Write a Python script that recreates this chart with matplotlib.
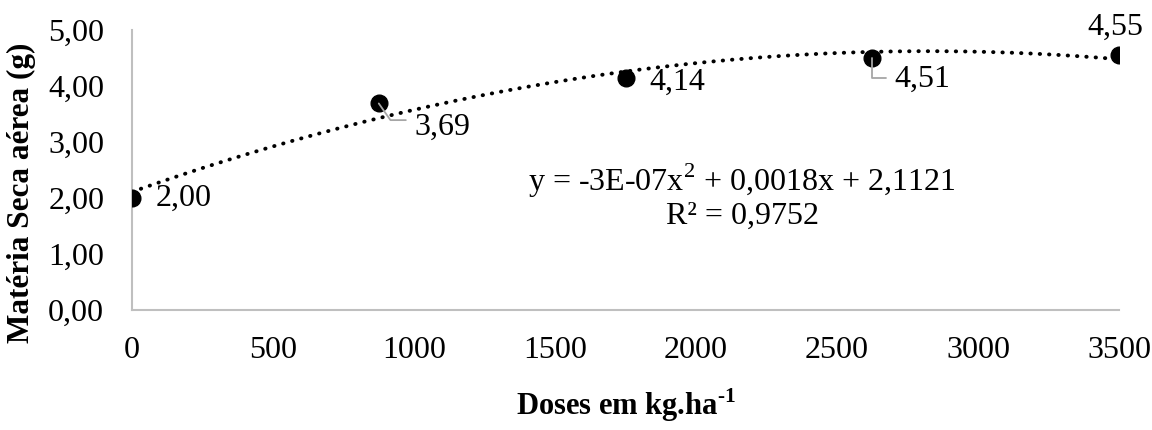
import numpy as np
import matplotlib
matplotlib.use('Agg')
import matplotlib.pyplot as plt

plt.rcParams['font.family'] = ['Liberation Serif', 'DejaVu Serif']
plt.rcParams['mathtext.fontset'] = 'custom'
plt.rcParams['mathtext.rm'] = 'Liberation Serif'
plt.rcParams['mathtext.bf'] = 'Liberation Serif:bold'

# Dados
doses = [0, 875, 1750, 2625, 3500]
massa = [2.00, 3.69, 4.14, 4.51, 4.55]
rotulos = ['2,00', '3,69', '4,14', '4,51', '4,55']
xticks = [0, 500, 1000, 1500, 2000, 2500, 3000, 3500]
yticks = [0, 1, 2, 3, 4, 5]
ytick_labels = ['0,00', '1,00', '2,00', '3,00', '4,00', '5,00']

fs = 23

fig = plt.figure(figsize=(11.52, 4.30), dpi=100)
ax = fig.add_axes([0.1146, 0.279, 0.8568, 0.651])

# Linha de tendencia polinomial (ordem 2)
coef = np.polyfit(doses, massa, 2)
xx = np.linspace(0, 3500, 300)
ax.plot(xx, np.polyval(coef, xx), color='black', linewidth=2.8,
        linestyle=(0, (0.1, 2.3)), dash_capstyle='round', zorder=2)

ax.plot(doses, massa, 'o', color='black', markersize=12, zorder=3)

# Rotulos de dados (deslocamento em pontos)
offsets = [(17, 0), (26, -17), (17, -3), (16, -16), (-3, 10)]
for x, y, txt, off in zip(doses, massa, rotulos, offsets):
    if off[1] > 5:
        ax.annotate(txt, xy=(x, y), xytext=off, textcoords='offset points',
                    fontsize=fs, va='bottom', ha='center')
    else:
        ax.annotate(txt, xy=(x, y), xytext=off, textcoords='offset points',
                    fontsize=fs, va='center', ha='left')

# Linhas de chamada
ax.annotate('', xy=(doses[1], massa[1]), xytext=(19.5, -12),
            textcoords='offset points',
            arrowprops=dict(arrowstyle='-', color='#A6A6A6', lw=1.3,
                            shrinkA=0, shrinkB=0,
                            connectionstyle='angle,angleA=0,angleB=-55,rad=0'))
ax.annotate('', xy=(doses[3], massa[3]), xytext=(10, -15),
            textcoords='offset points',
            arrowprops=dict(arrowstyle='-', color='#A6A6A6', lw=1.3,
                            shrinkA=0, shrinkB=0,
                            connectionstyle='angle,angleA=0,angleB=-90,rad=0'))

ax.text(2163, 2.03, 'y = -3E-07x$^{2}$ + 0,0018x + 2,1121\nR² = 0,9752',
        fontsize=fs, ha='center', va='center', linespacing=1.05)

ax.set_xlim(0, 3500)
ax.set_ylim(0, 5)
ax.set_xticks(xticks)
ax.set_xticklabels([str(t) for t in xticks])
ax.set_yticks(yticks)
ax.set_yticklabels(ytick_labels)
ax.tick_params(length=0, labelsize=fs)
ax.tick_params(axis='y', pad=20)
ax.tick_params(axis='x', pad=19)

for s in ['top', 'right']:
    ax.spines[s].set_visible(False)
for s in ['left', 'bottom']:
    ax.spines[s].set_color('#BFBFBF')
    ax.spines[s].set_linewidth(1.5)

ax.set_xlabel('Doses em kg.ha$^{\\mathbf{\\text{-}1}}$', fontsize=22,
              fontweight='bold', labelpad=15)
ax.set_ylabel('Matéria Seca aérea (g)', fontsize=22.5, fontweight='bold')
ax.yaxis.set_label_coords(-0.097, 0.418)

fig.savefig('out.png', dpi=100)
